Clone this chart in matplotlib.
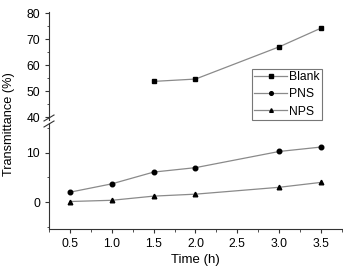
import numpy as np
import matplotlib.pyplot as plt

plt.rcParams['font.family'] = ['Liberation Sans', 'DejaVu Sans']

time_blank = [1.5, 2.0, 3.0, 3.5]
blank = [53.7, 54.6, 67.0, 74.2]
time_all = [0.5, 1.0, 1.5, 2.0, 3.0, 3.5]
pns = [2.0, 3.7, 6.1, 7.0, 10.3, 11.2]
nps = [0.1, 0.35, 1.2, 1.6, 3.0, 4.0]

W, H = 343, 267
fig = plt.figure(figsize=(W / 100, H / 100), dpi=100)
left = 49 / W
right = 342 / W
# upper: pixel 12..120, lower: 123..229
ax_top = fig.add_axes([left, 1 - 120 / H, right - left, (120 - 12) / H])
ax_bot = fig.add_axes([left, 1 - 229 / H, right - left, (229 - 123) / H], sharex=ax_top)

line_kw = dict(color='#8a8a8a', lw=0.9, markerfacecolor='black',
               markeredgecolor='black', markersize=3.3)
for ax in (ax_top, ax_bot):
    h1, = ax.plot(time_blank, blank, marker='s', label='Blank', **line_kw)
    h2, = ax.plot(time_all, pns, marker='o', label='PNS', **line_kw)
    h3, = ax.plot(time_all, nps, marker='^', label='NPS', **line_kw)
    for s in ('top', 'right'):
        ax.spines[s].set_visible(False)
    ax.spines['left'].set_color('#333333')
    ax.spines['bottom'].set_color('#333333')
    ax.tick_params(labelsize=8.7, length=3, width=0.8, color='#333333')
    ax.tick_params(which='minor', length=1.8, width=0.6, color='#333333')

ax_top.set_ylim(38.85, 80.4)
ax_top.set_yticks([40, 50, 60, 70, 80])
ax_top.set_yticks(np.arange(45, 80, 5), minor=True)
ax_top.spines['bottom'].set_visible(False)
ax_top.tick_params(axis='x', which='both', bottom=False, labelbottom=False)

ax_bot.set_ylim(-5.5, 16.1)
ax_bot.set_yticks([0, 10])
ax_bot.set_yticks([-5, 5, 15], minor=True)
ax_bot.set_xlim(0.25, 3.75)
ax_bot.set_xticks([0.5, 1.0, 1.5, 2.0, 2.5, 3.0, 3.5])
ax_bot.set_xticks(np.arange(0.25, 3.76, 0.25), minor=True)
ax_bot.set_xlabel('Time (h)', fontsize=9.5, labelpad=3)

fig.text(9 / W, 1 - 124 / H, 'Transmittance (%)', rotation=90,
         ha='center', va='center', fontsize=9.2)

# break marks
for yp in (118, 124):
    y = 1 - yp / H
    fig.add_artist(plt.Line2D([left - 5 / W, left + 5 / W], [y - 3 / H, y + 3 / H],
                              color='#333333', lw=0.8, transform=fig.transFigure))

leg = ax_top.legend(handles=[h1, h2, h3], loc='upper left',
                    bbox_to_anchor=((252 - 49) / (342 - 49), (120 - 69) / 108),
                    fontsize=8.7, frameon=True, fancybox=False, borderpad=0.2,
                    handlelength=2.7, handletextpad=0.2, labelspacing=0.42,
                    borderaxespad=0, markerscale=0.8)
leg.get_frame().set_edgecolor('#555555')
leg.get_frame().set_linewidth(0.8)

fig.savefig('out.png', dpi=100)
